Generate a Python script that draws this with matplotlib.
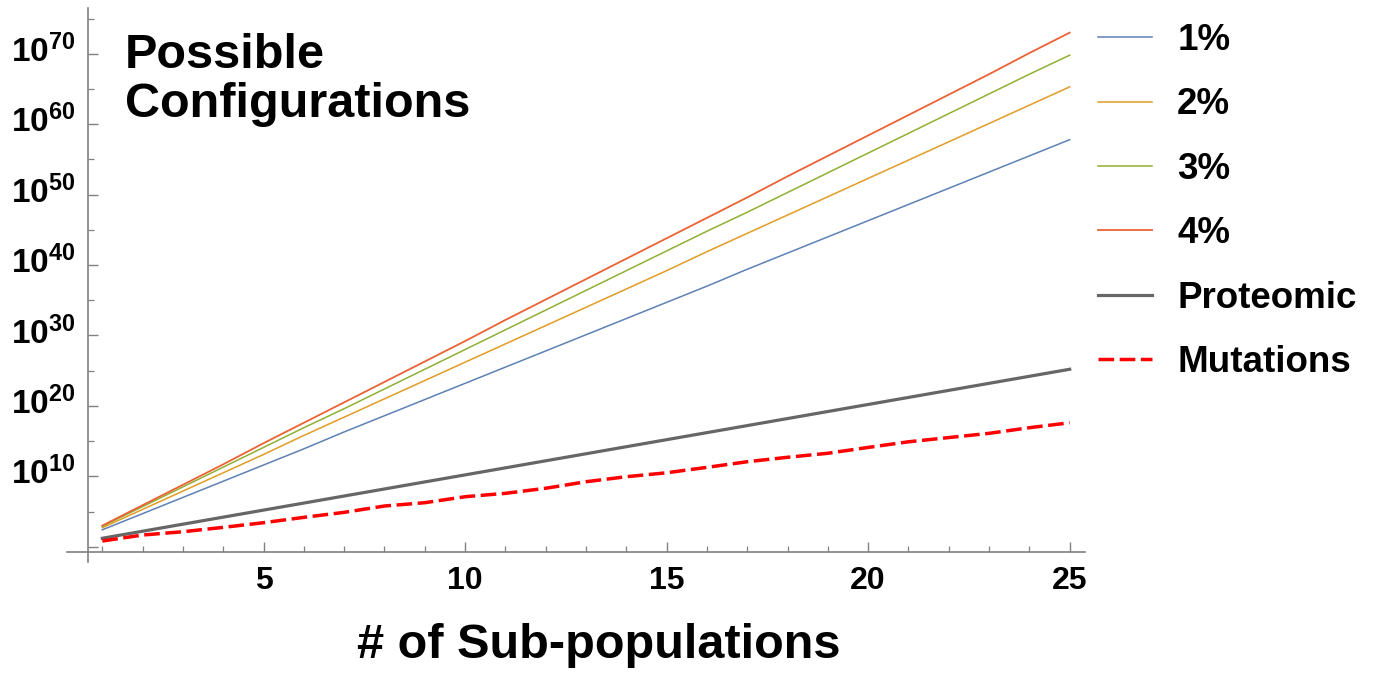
import matplotlib
matplotlib.use('Agg')
import matplotlib.pyplot as plt
import matplotlib.transforms as mtransforms
from matplotlib.ticker import FixedLocator, FuncFormatter, NullFormatter
import numpy as np

plt.rcParams['font.family'] = 'Liberation Sans'
plt.rcParams['font.weight'] = 'bold'
plt.rcParams['mathtext.fontset'] = 'custom'
plt.rcParams['mathtext.bf'] = 'Liberation Sans:bold'
plt.rcParams['mathtext.rm'] = 'Liberation Sans:bold'

# number of sub-populations
subpops = list(range(1, 26))

# log10 of possible configurations
exp_1pct = [2.4, 4.7, 7.0, 9.3, 11.6, 13.9, 16.3, 18.6, 20.9, 23.2, 25.5, 27.8, 30.1,
            32.4, 34.7, 37.0, 39.4, 41.7, 44.0, 46.3, 48.6, 50.9, 53.2, 55.5, 57.8]
exp_2pct = [2.7, 5.3, 7.9, 10.5, 13.1, 15.8, 18.4, 21.0, 23.6, 26.2, 28.8, 31.4, 34.0,
            36.6, 39.2, 41.9, 44.5, 47.1, 49.7, 52.3, 54.9, 57.5, 60.1, 62.7, 65.3]
exp_3pct = [2.9, 5.7, 8.5, 11.3, 14.1, 16.9, 19.6, 22.4, 25.2, 28.0, 30.8, 33.6, 36.4,
            39.2, 42.0, 44.8, 47.5, 50.3, 53.1, 55.9, 58.7, 61.5, 64.3, 67.1, 69.8]
exp_4pct = [3.0, 5.9, 8.8, 11.7, 14.7, 17.6, 20.5, 23.4, 26.3, 29.2, 32.2, 35.1, 38.0,
            40.9, 43.8, 46.7, 49.6, 52.6, 55.5, 58.4, 61.3, 64.2, 67.1, 70.1, 73.0]
exp_proteomic = [1.2, 2.2, 3.2, 4.2, 5.2, 6.2, 7.2, 8.2, 9.2, 10.2, 11.2, 12.2, 13.2,
                 14.2, 15.2, 16.2, 17.2, 18.2, 19.2, 20.2, 21.2, 22.2, 23.2, 24.2, 25.2]
exp_mutations = [0.81, 1.66, 2.13, 2.75, 3.41, 4.17, 4.88, 5.78, 6.25, 7.1, 7.58, 8.3, 9.23,
                 9.94, 10.5, 11.27, 12.07, 12.7, 13.27, 14.1, 14.9, 15.5, 16.1, 16.9, 17.6]

fig = plt.figure(figsize=(13.75, 6.73), dpi=100)
W, H = 1375, 673
ax = fig.add_axes([67 / W, 1 - 562 / H, (1085 - 67) / W, (562 - 8) / H])

x = np.array(subpops)
ax.plot(x, 10.0 ** np.array(exp_1pct), color='#5E81B5', lw=1.1, label='1%')
ax.plot(x, 10.0 ** np.array(exp_2pct), color='#E19C24', lw=1.1, label='2%')
ax.plot(x, 10.0 ** np.array(exp_3pct), color='#8FB032', lw=1.1, label='3%')
ax.plot(x, 10.0 ** np.array(exp_4pct), color='#EB6235', lw=1.3, label='4%')
ax.plot(x, 10.0 ** np.array(exp_proteomic), color='#666666', lw=2.3, label='Proteomic')
ax.plot(x, 10.0 ** np.array(exp_mutations), color='#ff0000', lw=2.5,
        dashes=(4.5, 1.6), label='Mutations')

ax.set_yscale('log')
ax.set_xlim(0.124, 25.38)
ax.set_ylim(10 ** -2.17, 10 ** 76.5)

for s in ['top', 'right']:
    ax.spines[s].set_visible(False)
ax.spines['left'].set_position(('data', 0.645))
ax.spines['bottom'].set_position(('data', 10 ** -0.71))
for s in ['left', 'bottom']:
    ax.spines[s].set_color('#808080')
    ax.spines[s].set_linewidth(1.2)

ax.yaxis.set_major_locator(FixedLocator([10.0 ** e for e in range(0, 80, 10)]))
ax.yaxis.set_minor_locator(FixedLocator([10.0 ** e for e in range(5, 80, 10)]))
ax.yaxis.set_major_formatter(FuncFormatter(
    lambda v, p: '' if v < 10 else r'$\mathbf{10^{%d}}$' % round(np.log10(v))))
ax.yaxis.set_minor_formatter(NullFormatter())

ax.xaxis.set_major_locator(FixedLocator([5, 10, 15, 20, 25]))
ax.xaxis.set_minor_locator(FixedLocator(subpops))

ax.tick_params(axis='both', which='both', direction='in', color='#808080')
ax.tick_params(axis='both', which='major', length=7, width=1.0)
ax.tick_params(axis='both', which='minor', length=4, width=0.9)
ax.tick_params(axis='y', which='major', labelsize=24, pad=9)
ax.tick_params(axis='x', which='major', labelsize=23, pad=10)
for lab in ax.get_xticklabels():
    lab.set_fontweight('bold')

# nudge y labels up so the base "10" sits on the tick
lift = mtransforms.ScaledTranslation(0, 4 / 72, fig.dpi_scale_trans)
for tk in ax.yaxis.get_major_ticks():
    tk.label1.set_transform(tk.label1.get_transform() + lift)

ax.set_xlabel('# of Sub-populations', fontsize=35, fontweight='bold')
ax.xaxis.set_label_coords(599 / W, 1 - 645 / H, transform=fig.transFigure)
ax.xaxis.label.set_va('center')

fig.text(125 / W, 1 - 68 / H, 'Possible', fontsize=35, fontweight='bold', va='baseline')
fig.text(125 / W, 1 - 117 / H, 'Configurations', fontsize=35, fontweight='bold', va='baseline')

leg = ax.legend(loc='upper left', bbox_to_anchor=(1098 / W, 1 - 23 / H),
                bbox_transform=fig.transFigure, frameon=False, fontsize=26.5,
                handlelength=1.47, handletextpad=0.68, labelspacing=0.8,
                borderaxespad=0, borderpad=0)
for t in leg.get_texts():
    t.set_fontweight('bold')

fig.savefig('out.png', dpi=100)
